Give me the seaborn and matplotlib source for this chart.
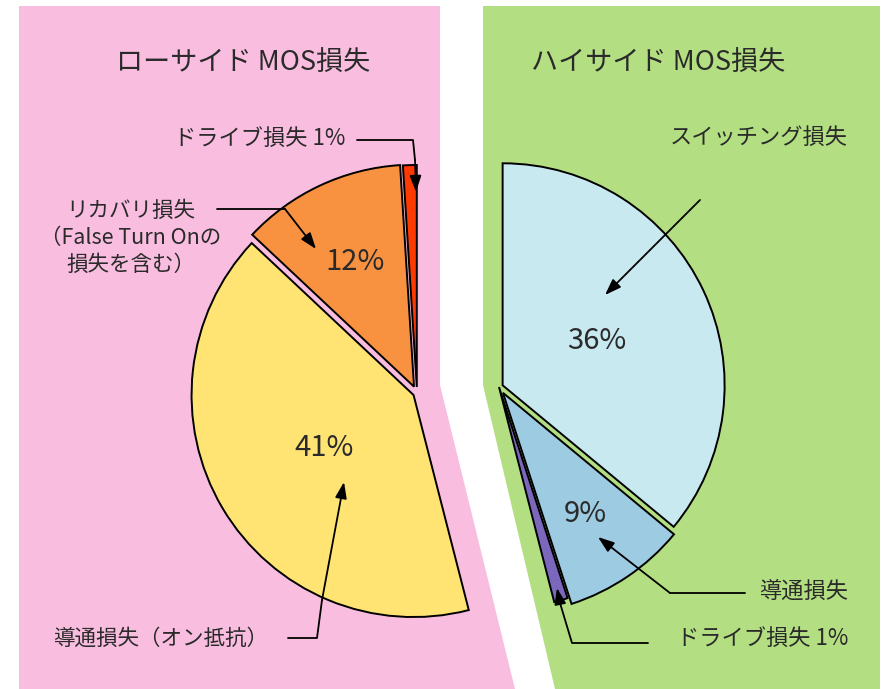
import numpy as np
import matplotlib
matplotlib.use('Agg')
import matplotlib.pyplot as plt
import seaborn as sns

# ローサイド MOS (左半分, 上から反時計回り)
low_labels = ['ドライブ損失', 'リカバリ損失', '導通損失']
low_values = [1, 12, 41]
low_colors = ['#FF3A00', '#F99240', '#FFE474']

# ハイサイド MOS (右半分, 上から時計回り)
high_labels = ['スイッチング損失', '導通損失', 'ドライブ損失']
high_values = [36, 9, 1]
high_colors = ['#C9E9F1', '#9CCBE2', '#7B67BC']

titles = ['ローサイド MOS損失', 'ハイサイド MOS損失']

sns.set_theme(style='white')
plt.rcParams['font.family'] = ['Noto Sans CJK JP', 'DejaVu Sans']

W, H = 887, 689
TXT = '#2a2a2a'
fig = plt.figure(figsize=(W / 100, H / 100), dpi=100)
ax = fig.add_axes([0, 0, 1, 1])

R = 222
low_center = (417, H - 393)
high_center = (499, H - 387)

# 背景の帯
ax.fill([19, 440, 440, 515, 19], [H - 6, H - 6, H - 385, 0, 0], color='#F9BEDF', lw=0, zorder=0)
ax.fill([483, 880, 880, 555, 483], [H - 6, H - 6, 0, 0, H - 385], color='#B3DF82', lw=0, zorder=0)

wp = dict(edgecolor='black', linewidth=1.4)
tp = dict(fontsize=21, color=TXT)


def pct_fmt(p):
    return '' if p < 2 else f'{p:.0f}%'


wl, _, al = ax.pie(np.array(low_values) / 100, normalize=False, startangle=90, counterclock=True,
                   colors=low_colors, explode=[6, 7, 4], center=low_center, radius=R,
                   autopct=pct_fmt, wedgeprops=wp, textprops=tp)
wh, _, ah = ax.pie(np.array(high_values) / 100, normalize=False, startangle=90, counterclock=False,
                   colors=high_colors, explode=[4, 7, 0], center=high_center, radius=R,
                   autopct=pct_fmt, wedgeprops=wp, textprops=tp)

# パーセント表示の位置を調整
for wedges, texts, dists in [(wl, al, [0, 0.62, 0.47]), (wh, ah, [0.47, 0.66, 0])]:
    for w, t, d in zip(wedges, texts, dists):
        th = np.deg2rad((w.theta1 + w.theta2) / 2)
        cx, cy = w.center
        t.set_position((cx + d * R * np.cos(th), cy + d * R * np.sin(th)))

ax.set_xlim(0, W)
ax.set_ylim(0, H)
ax.set_aspect('equal')
ax.axis('off')

# タイトル
ax.text(243, H - 62, titles[0], ha='center', va='center', fontsize=19.5, color=TXT)
ax.text(658, H - 62, titles[1], ha='center', va='center', fontsize=19.5, color=TXT)

arw = dict(arrowstyle='-|>,head_length=0.7,head_width=0.25', color='black', lw=1.3,
           mutation_scale=14, shrinkA=0, shrinkB=0)
lk = dict(color='black', lw=1.3)


def leader(xs, ys, tip):
    ys = [H - y for y in ys]
    ax.plot(xs, ys, **lk)
    ax.annotate('', xy=(tip[0], H - tip[1]), xytext=(xs[-1], ys[-1]), arrowprops=arw)


fs = 16
# ローサイド
ax.text(345, H - 138, f'{low_labels[0]} {low_values[0]}%', ha='right', va='center', fontsize=fs, color=TXT)
leader([357, 413, 415], [140, 140, 160], (416, 192))

ax.text(131, H - 238, f'{low_labels[1]}\n（False Turn Onの\n損失を含む）', ha='center', va='center',
        fontsize=fs - 0.5, color=TXT, linespacing=1.3)
leader([217, 285], [209, 209], (316, 249))

ax.text(53, H - 639, f'{low_labels[2]}（オン抵抗）', ha='left', va='center', fontsize=fs - 0.5, color=TXT)
leader([288, 317, 322], [638, 638, 600], (344, 482))

# ハイサイド
ax.text(848, H - 137, high_labels[0], ha='right', va='center', fontsize=fs, color=TXT)
leader([700, 700], [200, 200], (605, 295))

ax.text(848, H - 591, high_labels[1], ha='right', va='center', fontsize=fs, color=TXT)
leader([745, 670], [593, 593], (598, 537))

ax.text(848, H - 638, f'{high_labels[2]} {high_values[2]}%', ha='right', va='center', fontsize=fs, color=TXT)
leader([648, 572, 560], [643, 643, 603], (557, 588))

fig.savefig('out.png', dpi=100, facecolor='white')
